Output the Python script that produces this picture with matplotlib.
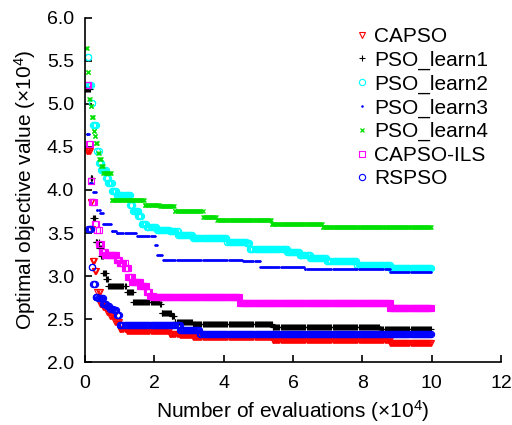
import numpy as np
import matplotlib
matplotlib.use("Agg")
import matplotlib.pyplot as plt

plt.rcParams['font.family'] = ['Liberation Sans', 'DejaVu Sans']
plt.rcParams['mathtext.fontset'] = 'custom'
plt.rcParams['mathtext.rm'] = 'Liberation Sans'
plt.rcParams['mathtext.it'] = 'Liberation Sans:italic'

# step breakpoints (x in 1e4 evaluations, y in 1e4)
capso_x = [0.05, 0.16, 0.21, 0.22, 0.29, 0.36, 0.43, 0.53, 0.63, 0.72, 0.87, 1.01, 1.21, 2.45, 2.74, 3.12, 5.42, 8.80]
capso_y = [4.45, 3.86, 3.55, 3.17, 3.06, 2.82, 2.68, 2.64, 2.58, 2.53, 2.47, 2.39, 2.36, 2.33, 2.31, 2.29, 2.26, 2.22]

l1_x = [0.00, 0.17, 0.24, 0.32, 0.41, 0.45, 0.53, 0.61, 0.67, 1.20, 1.39, 2.16, 2.21, 2.50, 2.60, 3.12, 5.42, 8.51]
l1_y = [5.17, 4.14, 3.68, 3.39, 3.32, 3.23, 3.03, 2.97, 2.88, 2.82, 2.70, 2.67, 2.57, 2.53, 2.47, 2.44, 2.41, 2.39]

l2_x = [0.08, 0.12, 0.19, 0.24, 0.34, 0.41, 0.46, 0.61, 0.67, 0.79, 0.92, 1.30, 1.38, 1.54, 1.64, 1.78, 2.07,
        2.45, 2.68, 3.12, 4.10, 4.66, 4.76, 5.82, 6.20, 6.49, 6.97, 7.84, 8.80]
l2_y = [5.55, 5.22, 5.01, 4.76, 4.45, 4.31, 4.23, 4.14, 4.08, 3.99, 3.94, 3.83, 3.76, 3.70, 3.60, 3.57, 3.53,
        3.52, 3.48, 3.44, 3.40, 3.38, 3.31, 3.28, 3.24, 3.21, 3.17, 3.13, 3.09]

l3_x = [0.05, 0.14, 0.24, 0.34, 0.43, 0.52, 0.77, 0.92, 1.50, 2.02, 2.08, 2.25, 4.56, 5.05, 6.35, 8.80]
l3_y = [4.65, 4.08, 3.98, 3.77, 3.73, 3.61, 3.52, 3.50, 3.46, 3.36, 3.24, 3.19, 3.17, 3.10, 3.08, 3.05]

l4_x = [0.03, 0.08, 0.12, 0.17, 0.20, 0.25, 0.29, 0.32, 0.37, 0.40, 0.45, 0.52, 0.77, 1.73, 2.16, 2.60, 3.40, 3.81, 5.39, 6.86]
l4_y = [5.65, 5.37, 5.06, 4.97, 4.85, 4.68, 4.63, 4.55, 4.43, 4.36, 4.28, 4.20, 3.88, 3.83, 3.81, 3.75, 3.69, 3.65, 3.61, 3.57]

ils_x = [0.05, 0.12, 0.17, 0.19, 0.29, 0.34, 0.41, 0.48, 0.58, 0.92, 1.01, 1.15, 1.25, 1.35, 1.59, 1.78, 1.88, 1.96, 4.47, 8.80]
ils_y = [5.22, 4.54, 4.10, 3.86, 3.61, 3.53, 3.37, 3.28, 3.24, 3.19, 3.15, 3.09, 2.99, 2.93, 2.88, 2.82, 2.77, 2.76, 2.69, 2.63]

rs_x = [0.10, 0.19, 0.24, 0.32, 0.38, 0.53, 0.63, 0.72, 0.84, 0.91, 1.01, 2.74, 3.31]
rs_y = [3.55, 3.10, 2.91, 2.76, 2.75, 2.68, 2.65, 2.62, 2.60, 2.55, 2.43, 2.37, 2.33]

names = ['CAPSO', 'PSO_learn1', 'PSO_learn2', 'PSO_learn3', 'PSO_learn4', 'CAPSO-ILS', 'RSPSO']
series = [(capso_x, capso_y), (l1_x, l1_y), (l2_x, l2_y), (l3_x, l3_y), (l4_x, l4_y), (ils_x, ils_y), (rs_x, rs_y)]
styles = [
    dict(marker='v', color='red', ms=4.5, mfc='none', mew=0.8),
    dict(marker='+', color='black', ms=5, mew=0.8),
    dict(marker='o', color='cyan', ms=4.5, mfc='none', mew=0.8),
    dict(marker='.', color='blue', ms=2.5, mew=0.5),
    dict(marker='x', color='#00e000', ms=3.5, mew=0.9),
    dict(marker='s', color='magenta', ms=4, mfc='none', mew=0.8),
    dict(marker='o', color='blue', ms=4.5, mfc='none', mew=0.8),
]

END = 10.0
grid = np.arange(0, END + 1e-9, 0.03)

fig = plt.figure(figsize=(5.12, 4.25), dpi=100)
ax = fig.add_axes([0.166, 0.148, 0.8125, 0.81])

for name, (bx, by), st in zip(names, series, styles):
    bx = np.array(bx); by = np.array(by)
    xs = np.union1d(grid[grid >= bx[0]], bx)
    idx = np.searchsorted(bx, xs, side='right') - 1
    ys = by[idx]
    ax.plot(xs, ys, linestyle='none', label=name, **st)

ax.set_xlim(0, 12)
ax.set_ylim(2.0, 6.0)
ax.set_xticks(np.arange(0, 13, 2))
ax.set_yticks(np.arange(2.0, 6.01, 0.5))
ax.set_yticklabels([f'{v:.1f}' for v in np.arange(2.0, 6.01, 0.5)])
for s in ['top', 'right']:
    ax.spines[s].set_visible(False)
for s in ['left', 'bottom']:
    ax.spines[s].set_linewidth(1.2)
ax.tick_params(direction='in', length=5, width=1.2, labelsize=14)
ax.tick_params(axis='x', pad=9)
ax.tick_params(axis='y', pad=8)
ax.set_xlabel('Number of evaluations (×10$^{4}$)', fontsize=15, labelpad=5)
ax.set_ylabel('Optimal objective value (×10$^{4}$)', fontsize=15, labelpad=6)

leg = ax.legend(loc='upper left', bbox_to_anchor=(353 / 512, 1 - 27 / 425),
                bbox_transform=fig.transFigure, frameon=False, fontsize=15, borderpad=0,
                borderaxespad=0, handletextpad=0.1, labelspacing=0.22, handlelength=0.9)

fig.savefig('out.png', dpi=100)
